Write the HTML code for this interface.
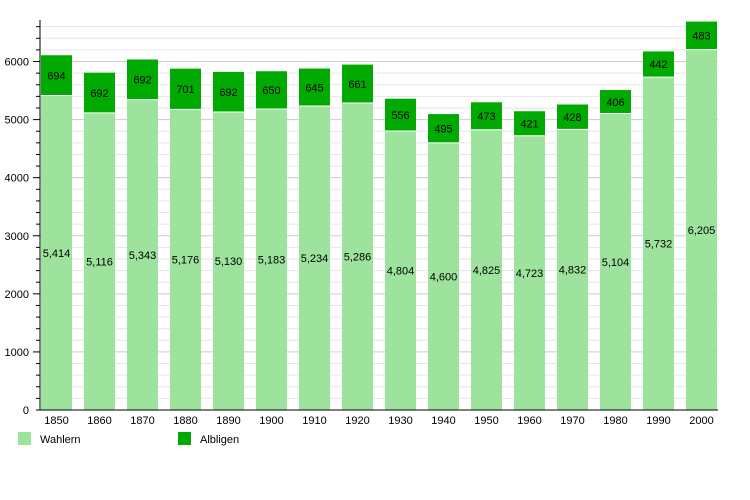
<!DOCTYPE html>
<html><head><meta charset="utf-8"><style>body{margin:0;background:#fff}svg{display:block;font-family:"Liberation Sans",sans-serif}</style></head><body>
<svg width="750" height="500" xmlns="http://www.w3.org/2000/svg" id="s"></svg>
<script>
const W=[5414,5116,5343,5176,5130,5183,5234,5286,4804,4600,4825,4723,4832,5104,5732,6205];
const A=[694,692,692,701,692,650,645,661,556,495,473,421,428,406,442,483];
const Y=[1850,1860,1870,1880,1890,1900,1910,1920,1930,1940,1950,1960,1970,1980,1990,2000];
const y0=410,k=0.05808;const y=v=>y0-v*k;
let h='';
for(let v=200;v<=6600;v+=200){const yy=y(v);h+=`<line x1="40" x2="718" y1="${yy}" y2="${yy}" stroke="${v%1000?'#e6e6e6':'#cccccc'}" stroke-width="1"/>`;
h+=`<line x1="${v%1000?36:33}" x2="40" y1="${yy}" y2="${yy}" stroke="#000"/>`;
if(v%1000==0)h+=`<text x="29" y="${yy+4}" font-size="11" text-anchor="end">${v}</text>`;}
h+=`<text x="29" y="414" font-size="11" text-anchor="end">0</text>`;
const fmt=n=>n.toLocaleString('en-US');
for(let i=0;i<16;i++){const x=41+i*43,c=x+15.5;
const yw=y(W[i]),yt=y(W[i]+A[i]);
h+=`<rect x="${x}" y="${yw}" width="31" height="${y0-yw}" fill="#9de39d"/>`;
h+=`<rect x="${x}" y="${yt}" width="31" height="${yw-yt}" fill="#00aa00"/>`;
h+=`<line x1="${x}" x2="${x+31}" y1="${yw}" y2="${yw}" stroke="#fff"/>`;
h+=`<text x="${c}" y="${(y0+yw)/2+4}" font-size="11" text-anchor="middle">${fmt(W[i])}</text>`;
h+=`<text x="${c}" y="${(yw+yt)/2+4}" font-size="11" text-anchor="middle">${A[i]}</text>`;
h+=`<text x="${c}" y="424" font-size="11" text-anchor="middle">${Y[i]}</text>`;}
h+=`<line x1="40" x2="40" y1="20" y2="410" stroke="#000"/><line x1="36" x2="718" y1="410" y2="410" stroke="#000"/>`;
h+=`<rect x="18" y="432" width="13" height="13" fill="#9de39d"/><text x="40" y="443" font-size="11">Wahlern</text>`;
h+=`<rect x="178" y="432" width="13" height="13" fill="#00aa00"/><text x="200" y="443" font-size="11">Albligen</text>`;
document.getElementById('s').innerHTML=h;
</script>
</body></html>
